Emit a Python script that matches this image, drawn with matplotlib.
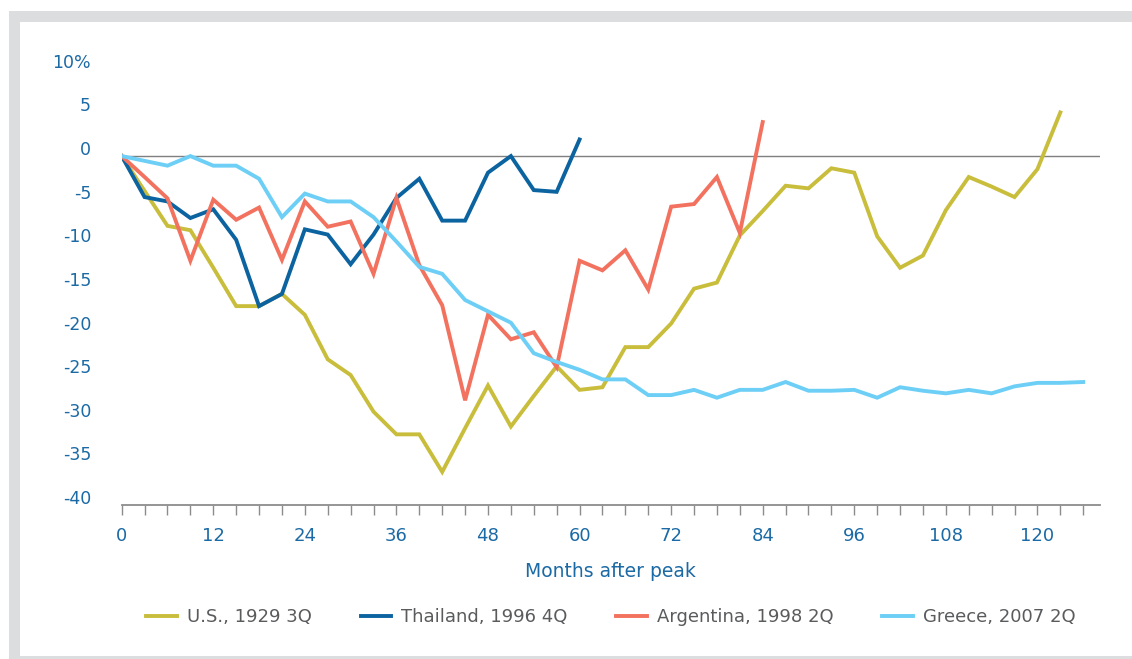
import numpy as np
import matplotlib
matplotlib.use("Agg")
import matplotlib.pyplot as plt
import matplotlib.transforms as mtransforms
from matplotlib.patches import Rectangle

# real GDP relative to the pre-crisis peak, quarterly (every 3 months)
us_1929 = [0, -4.0, -8.0, -8.5, -12.8, -17.2, -17.2, -15.8, -18.2, -23.3,
           -25.1, -29.3, -31.9, -31.9, -36.2, -31.2, -26.3, -31.0, -27.5, -24.1,
           -26.8, -26.5, -21.9, -21.9, -19.2, -15.2, -14.5, -9.1, -6.3, -3.4,
           -3.7, -1.4, -1.9, -9.2, -12.8, -11.4, -6.2, -2.4, -3.5, -4.7,
           -1.5, 5.0]
thailand_1996 = [0, -4.7, -5.2, -7.1, -6.1, -9.6, -17.2, -15.8, -8.4, -9.0,
                 -12.4, -9.0, -4.8, -2.6, -7.4, -7.4, -1.9, 0, -3.9, -4.1, 1.9]
argentina_1998 = [0, -2.4, -4.85, -12.0, -5.0, -7.3, -5.9, -11.9, -5.2, -8.1,
                  -7.5, -13.5, -4.8, -12.5, -17.1, -28.0, -18.2, -21.0, -20.2, -24.2,
                  -12.0, -13.1, -10.8, -15.3, -5.8, -5.5, -2.4, -8.8, 3.9]
greece_2007 = [0, -0.55, -1.1, 0, -1.1, -1.1, -2.6, -7.0, -4.3, -5.2,
               -5.2, -7.0, -9.8, -12.7, -13.5, -16.5, -17.8, -19.1, -22.6, -23.6,
               -24.5, -25.6, -25.6, -27.4, -27.4, -26.8, -27.7, -26.8, -26.8, -25.9,
               -26.9, -26.9, -26.8, -27.7, -26.5, -26.9, -27.2, -26.8, -27.2, -26.4,
               -26.0, -26.0, -25.9]

names = ["U.S., 1929 3Q", "Thailand, 1996 4Q", "Argentina, 1998 2Q", "Greece, 2007 2Q"]
colors = ["#c9bd3c", "#0b63a0", "#f2725f", "#6dcff6"]

yticks = [10, 5, 0, -5, -10, -15, -20, -25, -30, -35, -40]
ylabels = ["10%", "5", "0", "-5", "-10", "-15", "-20", "-25", "-30", "-35", "-40"]
xlabels_at = np.arange(0, 121, 12)

blue_txt = "#1b6aa5"
W, H = 1132, 659
fig = plt.figure(figsize=(W / 100, H / 100), dpi=100)

# grey frame around the panel
fig.patches.append(Rectangle((9 / W, 0), 1, (H - 11) / H, transform=fig.transFigure,
                             facecolor="#dcdddf", edgecolor="none", zorder=-10))
fig.patches.append(Rectangle((19.5 / W, 3.5 / H), 1, (655.5 - 21.7) / H,
                             transform=fig.transFigure, facecolor="white",
                             edgecolor="none", zorder=-9))

ax = fig.add_axes([121.7 / W, (H - 505) / H, (1100 - 121.7) / W, (505 - 51.4) / H])
ax.patch.set_alpha(0)

series = [us_1929, thailand_1996, argentina_1998, greece_2007]
for vals, name, c in zip(series, names, colors):
    months = np.arange(len(vals)) * 3
    ax.plot(months, vals, color=c, lw=2.8, label=name, solid_joinstyle="miter")

ax.axhline(0, color="#7f7f7f", lw=1.0, zorder=0)

ax.set_xlim(0, 128.2)
ax.set_ylim(-40, 12)
for s in ["top", "right", "left"]:
    ax.spines[s].set_visible(False)
ax.spines["bottom"].set_color("#8c8c8c")
ax.spines["bottom"].set_linewidth(1.3)

ax.set_xticks(np.arange(0, 127, 3), minor=True)
ax.set_xticks(xlabels_at)
ax.set_xticklabels([str(m) for m in xlabels_at])
ax.tick_params(axis="x", which="both", direction="out", length=7, width=1,
               color="#8c8c8c", labelsize=13, labelcolor=blue_txt, pad=9)

ax.set_yticks(yticks)
ax.set_yticklabels(ylabels)
ax.tick_params(axis="y", length=0, labelsize=12.5, labelcolor=blue_txt, pad=22)
shift = mtransforms.ScaledTranslation(0, 8 / 100, fig.dpi_scale_trans)
for lab in ax.get_yticklabels():
    lab.set_transform(lab.get_transform() + shift)

ax.set_xlabel("Months after peak", fontsize=13.5, color=blue_txt, labelpad=12)

leg = fig.legend(loc="center", bbox_to_anchor=(611 / W, (H - 617) / H), ncol=4,
                 frameon=False, fontsize=13, handlelength=1.7, handletextpad=0.55,
                 columnspacing=2.7)
for t in leg.get_texts():
    t.set_color("#5a5b5d")

fig.savefig("out.png", dpi=100)
